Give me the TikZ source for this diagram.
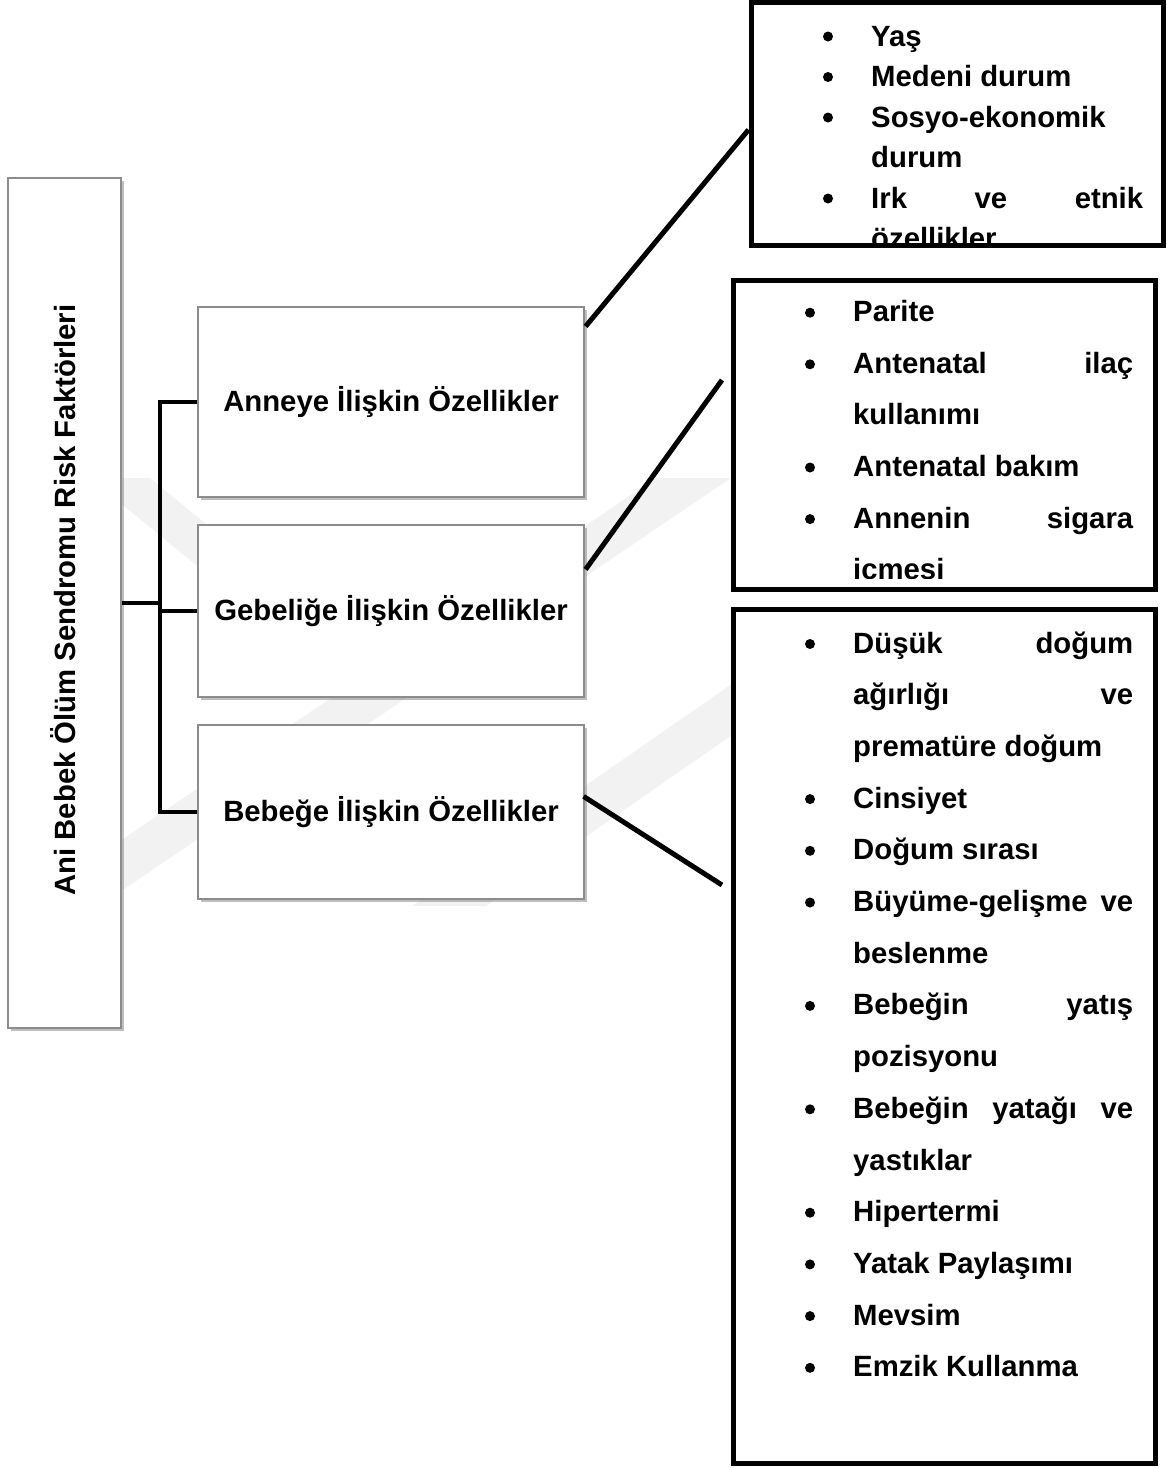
\documentclass[tikz,border=0pt]{standalone}
\usepackage{fontspec}
\setmainfont{Liberation Sans}
\usetikzlibrary{shadows,calc}
\begin{document}
\begin{tikzpicture}[x=1pt,y=-1pt,
  txt/.style={font=\fontsize{29.3}{35}\selectfont\bfseries, inner sep=0pt},
  itemtxt/.style={txt, anchor=base west},
  bul/.style={fill=black},
  graybox/.style={draw=black!45, line width=1.2pt, fill=white,
    drop shadow={shadow xshift=2.5pt, shadow yshift=-3pt, opacity=0.45, fill=black!55}},
  midbox/.style={graybox, txt, minimum width=386pt},
  listbox/.style={draw=black, line width=5pt, fill=white, inner sep=0pt},
  conn/.style={line width=5pt},
  brack/.style={line width=4.5pt},
  wm/.style={draw=black!5}]

\useasboundingbox (0,0) rectangle (1167,1468);
\fill[white] (0,0) rectangle (1167,1468);

% faint watermark
\begin{scope}
  \clip (122,478) rectangle (733,905);
  \draw[wm, line width=42pt] (100,880) -- (720,460);
  \draw[wm, line width=42pt] (400,940) -- (760,690);
  \draw[wm, line width=38pt] (110,470) -- (330,650);
\end{scope}

% left root box
\node[graybox, minimum width=113pt, minimum height=850pt, inner sep=0pt] (root) at (64.5,603) {};
\node[txt, rotate=90, anchor=base] (roottxt) at (75,600) {Ani Bebek Ölüm Sendromu Risk Faktörleri};

% middle boxes
\node[midbox, minimum height=190pt] (anne) at (391,402) {Anneye İlişkin Özellikler};
\node[midbox, minimum height=172pt] (gebe) at (391,611) {Gebeliğe İlişkin Özellikler};
\node[midbox, minimum height=174pt] (bebe) at (391,812) {Bebeğe İlişkin Özellikler};

% bracket
\coordinate (bx) at (160,603);
\draw[brack] (root.east) -- (bx);
\draw[brack] (anne.west) -- (anne.west -| bx) -- (bebe.west -| bx) -- (bebe.west);
\draw[brack] (gebe.west -| bx) -- (gebe.west);

% right boxes
\node[listbox, minimum width=412.5pt, minimum height=242.5pt] (boxA) at (957.25,123.75) {};
\node[listbox, minimum width=422pt, minimum height=309pt] (boxB) at (944.5,434.5) {};
\node[listbox, minimum width=422pt, minimum height=854pt] (boxC) at (944.5,1036) {};

% box A items
\begin{scope}
  \clip (753.5,5) rectangle (1161,242.5);
  \foreach \i/\b/\t in {1/1/{Yaş}, 2/1/{Medeni durum}, 3/1/{Sosyo-ekonomik}, 4/0/{durum},
      5/1/{\hbox to 272pt{Irk\hfill ve\hfill etnik}}, 6/0/{özellikler}} {
    \node[itemtxt] (a\i) at (871,{46+(\i-1)*40.5}) {\t};
    \ifnum\b=1 \fill[bul] (828,{46+(\i-1)*40.5-9.5}) circle (5); \fi
  }
\end{scope}

% box B items
\begin{scope}
  \clip (736,283) rectangle (1153,578.5);
  \foreach \i/\b/\t in {1/1/{Parite}, 2/1/{\hbox to 280pt{Antenatal\hfill ilaç}}, 3/0/{kullanımı},
      4/1/{Antenatal bakım}, 5/1/{\hbox to 280pt{Annenin\hfill sigara}}, 6/0/{içmesi}} {
    \node[itemtxt] (b\i) at (853,{321.7+(\i-1)*51.6}) {\t};
    \ifnum\b=1 \fill[bul] (810,{321.7+(\i-1)*51.6-9}) circle (5); \fi
  }
\end{scope}

% box C items
\foreach \i/\b/\t in {1/1/{\hbox to 280pt{Düşük\hfill doğum}}, 2/0/{\hbox to 280pt{ağırlığı\hfill ve}},
    3/0/{prematüre doğum}, 4/1/{Cinsiyet}, 5/1/{Doğum sırası},
    6/1/{\hbox to 280pt{Büyüme-gelişme\hfill ve}}, 7/0/{beslenme},
    8/1/{\hbox to 280pt{Bebeğin\hfill yatış}}, 9/0/{pozisyonu},
    10/1/{\hbox to 280pt{Bebeğin\hfill yatağı\hfill ve}}, 11/0/{yastıklar},
    12/1/{Hipertermi}, 13/1/{Yatak Paylaşımı}, 14/1/{Mevsim}, 15/1/{Emzik Kullanma}} {
  \node[itemtxt] (c\i) at (853,{653+(\i-1)*51.7}) {\t};
  \ifnum\b=1 \fill[bul] (810,{653+(\i-1)*51.7-9}) circle (5); \fi
}

% connectors
\coordinate (gB) at (722,380);
\coordinate (bC) at (722,885);
\draw[conn] ($(anne.north east)+(1,20)$) -- ($(boxA.west)+(0,6)$);
\draw[conn] ($(gebe.north east)+(1,45)$) -- (gB);
\draw[conn] ($(bebe.north east)+(-1,72)$) -- (bC);
\end{tikzpicture}
\end{document}
